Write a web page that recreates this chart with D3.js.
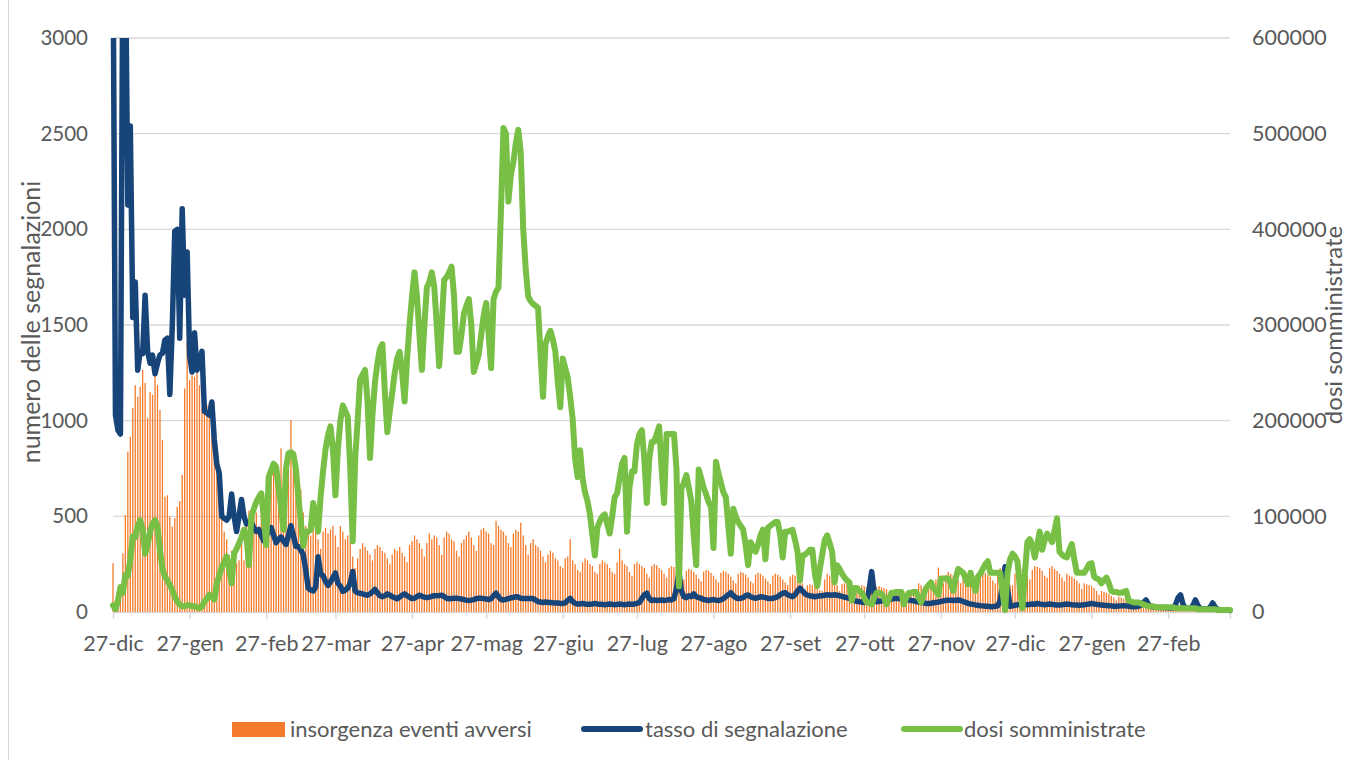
<!DOCTYPE html>
<html><head><meta charset="utf-8">
<script src="https://cdn.jsdelivr.net/npm/d3@7"></script>
<style>
body{margin:0;background:#fff;}
svg text{font-family:Lato,"Open Sans",sans-serif;fill:#595959;}
</style>
</head><body>
<svg id="chart" width="1349" height="760"></svg>
<script>
// ---------- data (daily, from 27-dic-2020) ----------
const startDay = [2020, 11, 27];
const tickLabels = ["27-dic","27-gen","27-feb","27-mar","27-apr","27-mag","27-giu","27-lug","27-ago","27-set","27-ott","27-nov","27-dic","27-gen","27-feb"];
const leftTicks = [0,500,1000,1500,2000,2500,3000];
const rightTicks = [0,100000,200000,300000,400000,500000,600000];
const seriesNames = ["insorgenza eventi avversi","tasso di segnalazione","dosi somministrate"];

// insorgenza eventi avversi (bars, left axis)
const eventi = [
255,60,70,134,307,507,838,
916,1066,1186,1125,1177,1265,1197,
1014,1151,1135,1249,1186,1056,899,
603,610,500,446,491,550,580,
716,1169,1412,1212,1237,1230,1256,
1186,1064,1134,1080,1091,1064,864,
733,620,550,420,380,298,320,
330,256,270,400,270,481,530,
470,550,520,450,540,550,550,
600,707,740,770,730,855,680,
700,780,1003,760,640,680,640,
520,450,430,400,440,420,380,
330,420,440,410,430,450,400,
340,450,420,380,400,370,290,
230,280,330,360,340,320,300,
270,330,350,340,320,310,280,
250,300,330,320,340,310,290,
260,350,370,400,380,360,330,
290,360,410,380,400,390,350,
300,390,420,410,380,370,320,
290,360,380,400,420,390,350,
320,400,430,440,420,410,360,
350,477,450,430,420,400,360,
340,410,430,420,467,400,350,
300,360,380,350,340,320,290,
260,300,320,310,280,270,240,
230,280,290,381,270,250,220,
210,260,280,270,250,240,210,
200,250,270,260,250,230,210,
200,260,330,270,250,240,210,
190,250,260,250,240,230,200,
180,240,250,245,230,220,200,
180,230,240,235,220,200,180,
170,215,225,220,210,195,175,
160,210,220,215,205,190,170,
155,205,215,210,200,185,165,
150,200,210,205,195,180,160,
150,195,205,200,190,175,160,
145,190,200,195,185,170,155,
140,185,195,190,180,165,150,
120,140,145,140,135,130,115,
110,170,200,190,180,165,140,
110,145,150,145,140,130,110,
100,135,140,135,130,125,105,
95,130,135,130,125,120,100,
90,115,120,118,115,110,95,
90,115,120,118,150,140,120,
110,150,160,155,170,232,180,
150,195,210,200,190,180,165,
150,190,210,200,195,185,160,
150,200,210,205,195,185,165,
150,210,230,220,200,170,140,
140,200,220,230,225,215,190,
170,220,240,235,230,215,190,
180,230,240,225,215,200,180,
160,200,190,185,175,165,150,
120,150,145,140,135,125,110,
90,110,105,100,95,85,75,
60,80,75,70,65,55,45,
35,40,38,35,30,28,25,
20,25,24,22,20,18,16,
14,18,17,16,15,14,12,
10,13,12,12,11,10,9,
8,10,10,9,9,8,7,
6,8,7,7,6
];

// tasso di segnalazione (line, left axis)
const tasso = [
3500,1030,950,930,3500,3500,2127,
2540,1539,1725,1264,1362,1350,1656,
1362,1300,1343,1245,1300,1343,1352,
1421,1431,1137,1500,1990,2000,1431,
2107,1656,1882,1343,1254,1460,1264,
1300,1362,1049,1040,1029,1098,900,
774,725,500,490,480,500,617,
500,421,500,588,500,460,465,
470,440,421,431,400,372,400,
421,441,400,363,380,392,370,
353,400,451,400,343,341,323,
300,219,125,115,110,130,289,
200,190,160,139,157,180,204,
150,135,108,115,125,150,212,
110,100,98,95,90,88,95,
105,118,100,85,80,85,95,
88,80,75,69,78,88,95,
85,78,70,72,80,88,82,
78,75,78,82,85,85,86,
88,80,72,69,70,72,72,
70,68,65,62,60,62,65,
70,72,72,70,68,65,70,
85,98,80,65,63,66,70,
74,76,80,78,72,70,70,
70,70,70,62,54,52,50,
52,50,50,48,47,47,45,
45,48,60,71,55,45,42,
42,45,42,40,40,42,45,
42,40,40,38,40,42,40,
38,40,42,40,38,40,42,
40,42,45,50,70,90,98,
70,60,63,60,62,63,60,
62,65,63,70,120,209,110,
80,75,85,80,95,80,75,
72,65,63,60,63,65,62,
60,63,70,80,90,101,85,
75,70,72,75,85,89,80,
75,72,75,80,78,75,72,
70,72,75,80,90,98,101,
90,85,80,90,110,125,110,
95,88,85,82,80,82,85,
85,88,90,89,88,90,88,
85,82,78,75,71,65,60,
56,54,52,50,55,120,211,
100,54,55,58,60,62,65,
68,70,71,70,68,66,64,
63,60,58,55,52,50,48,
45,45,46,48,50,52,55,
58,60,62,62,60,62,63,
60,55,50,45,42,40,37,
35,33,32,30,30,28,28,
30,32,60,150,237,120,30,
32,35,38,40,42,40,38,
40,42,40,45,42,40,38,
40,42,40,38,36,37,38,
40,42,40,38,37,36,35,
36,38,40,42,45,42,40,
38,36,35,34,33,32,30,
30,31,32,33,32,30,28,
27,28,30,35,50,63,40,
28,26,25,24,24,23,22,
22,21,22,40,75,89,40,
22,20,20,35,63,35,18,
17,16,15,25,47,25,14,
12,11,10,9,8
];

// dosi somministrate (line, right axis), in migliaia
const dosiMigliaia = [
7,3,12,26,20,39,38,
55,79,78,90,96,86,61,
70,84,92,96,89,65,45,
37,33,28,23,16,11,8,
6,6,7,7,6,6,5,
4,6,11,14,18,16,13,
30,38,47,52,58,45,30,
61,66,72,78,86,80,49,
100,108,115,120,124,100,70,
141,148,155,152,130,110,86,
150,166,167,165,150,120,95,
69,84,84,86,114,100,84,
120,147,170,185,194,170,122,
170,200,216,210,204,150,74,
160,200,243,248,253,220,161,
206,240,260,275,280,230,188,
210,229,250,265,272,250,220,
265,300,330,355,330,290,253,
300,339,345,355,340,300,257,
300,347,350,355,361,330,272,
272,290,312,320,327,300,251,
260,269,290,310,323,290,255,
327,335,339,420,506,500,429,
457,470,490,504,480,400,359,
330,325,322,320,318,270,225,
280,288,294,285,272,240,214,
265,255,245,225,202,160,141,
169,140,125,116,102,80,59,
88,95,100,102,92,82,100,
120,124,140,155,161,84,130,
147,147,175,186,190,160,114,
160,178,178,186,194,150,114,
186,186,186,186,150,27,129,
135,143,130,116,80,49,149,
140,130,123,115,110,67,157,
145,135,125,120,90,61,108,
100,94,90,86,70,49,73,
68,63,70,80,86,55,88,
90,92,94,94,80,57,84,
84,85,86,75,63,33,59,
60,62,65,65,40,27,45,
60,75,80,72,63,31,49,
45,40,36,33,31,12,25,
25,22,20,15,10,10,8,
15,20,20,19,15,8,14,
20,20,21,21,21,8,15,
20,20,21,21,15,10,18,
25,28,31,25,22,18,35,
35,35,35,30,22,35,45,
43,41,35,29,41,30,22,
37,40,45,50,53,41,41,
41,41,41,20,2,41,55,
61,58,53,25,4,40,73,
76,70,57,70,84,65,75,
82,78,73,85,98,63,60,
58,57,65,71,55,41,41,
41,41,45,50,51,37,35,
34,30,33,36,30,22,21,
21,20,20,21,22,12,11,
10,10,10,9,8,7,6,
6,6,5,5,5,5,5,
5,5,5,4,4,4,4,
4,4,4,4,4,3,3,
3,3,3,3,3,3,2,
2,2,2,2,2
];

// ---------- drawing ----------
const W = 1349, H = 760;
const plot = {left:113, right:1230, top:38, bottom:612};
const svg = d3.select("#chart");
const start = new Date(startDay[0], startDay[1], startDay[2]);
const n = eventi.length;
const dates = d3.range(n).map(i => d3.timeDay.offset(start, i));
const dosi = dosiMigliaia.map(v => v * 1000);

const x = d3.scaleTime().domain([dates[0], dates[n-1]]).range([plot.left, plot.right]);
const yL = d3.scaleLinear().domain([0, 3000]).range([plot.bottom, plot.top]);
const yR = d3.scaleLinear().domain([0, 600000]).range([plot.bottom, plot.top]);

const colOrange = "#F47B2B", colBlue = "#174479", colGreen = "#77BF45", colGrid = "#D9D9D9";

// chart border (left edge visible)
svg.append("line").attr("x1",8.5).attr("x2",8.5).attr("y1",0).attr("y2",H).attr("stroke",colGrid).attr("stroke-width",1);

// gridlines
svg.append("g").selectAll("line").data(leftTicks.slice(1)).join("line")
  .attr("x1", plot.left).attr("x2", plot.right)
  .attr("y1", d => yL(d)).attr("y2", d => yL(d))
  .attr("stroke", colGrid).attr("stroke-width", 1.4);

// x axis
const tickDates = tickLabels.map((t,i) => new Date(startDay[0], startDay[1] + i, startDay[2]));
const xAxis = svg.append("g").attr("transform", `translate(0,${plot.bottom})`)
  .call(d3.axisBottom(x).tickValues(tickDates.concat([dates[n-1]])).tickSize(7).tickSizeOuter(0).tickPadding(17)
    .tickFormat((d,i) => tickLabels[i] || ""));
xAxis.select(".domain").attr("stroke", colGrid).attr("stroke-width", 1.4);
xAxis.selectAll(".tick line").attr("stroke", colGrid).attr("stroke-width", 1.4);
xAxis.selectAll("text").attr("font-size", 21.5).style("fill", "#595959");

// left axis
const lAxis = svg.append("g").attr("transform", `translate(${plot.left},0)`)
  .call(d3.axisLeft(yL).tickValues(leftTicks).tickSize(0).tickPadding(25).tickFormat(d3.format("d")));
lAxis.select(".domain").remove();
lAxis.selectAll("text").attr("font-size", 20.5).style("fill", "#595959");

// right axis
const rAxis = svg.append("g").attr("transform", `translate(${plot.right},0)`)
  .call(d3.axisRight(yR).tickValues(rightTicks).tickSize(0).tickPadding(22).tickFormat(d3.format("d")));
rAxis.select(".domain").remove();
rAxis.selectAll("text").attr("font-size", 21.5).style("fill", "#595959");

// clip
svg.append("defs").append("clipPath").attr("id","plotclip").append("rect")
  .attr("x", plot.left - 10).attr("y", plot.top).attr("width", plot.right - plot.left + 20).attr("height", plot.bottom - plot.top + 10);

const g = svg.append("g").attr("clip-path","url(#plotclip)");

// bars
const barW = 1.3;
g.append("g").selectAll("rect").data(eventi).join("rect")
  .attr("x", (d,i) => x(dates[i]) - barW/2)
  .attr("width", barW)
  .attr("y", d => yL(d))
  .attr("height", d => yL(0) - yL(d))
  .attr("fill", colOrange);

// lines
const lineL = d3.line().x((d,i) => x(dates[i])).y(d => yL(d));
const lineR = d3.line().x((d,i) => x(dates[i])).y(d => yR(d));
g.append("path").datum(tasso).attr("d", lineL).attr("fill","none")
  .attr("stroke", colBlue).attr("stroke-width", 5.5).attr("stroke-linejoin","round").attr("stroke-linecap","round");
g.append("path").datum(dosi).attr("d", lineR).attr("fill","none")
  .attr("stroke", colGreen).attr("stroke-width", 6).attr("stroke-linejoin","round").attr("stroke-linecap","round");

// axis titles
svg.append("text").attr("transform", "translate(40,322) rotate(-90)")
  .attr("text-anchor","middle").attr("font-size", 25).text("numero delle segnalazioni");
svg.append("text").attr("transform", "translate(1342,325) rotate(-90)")
  .attr("text-anchor","middle").attr("font-size", 24).text("dosi somministrate");

// legend
const lg = svg.append("g");
lg.append("rect").attr("x",232).attr("y",722).attr("width",53).attr("height",15).attr("fill",colOrange);
lg.append("text").attr("x",290).attr("y",729).attr("dy","0.35em").attr("font-size",22).text(seriesNames[0]);
lg.append("line").attr("x1",584).attr("x2",640).attr("y1",729).attr("y2",729)
  .attr("stroke",colBlue).attr("stroke-width",6).attr("stroke-linecap","round");
lg.append("text").attr("x",645).attr("y",729).attr("dy","0.35em").attr("font-size",22).text(seriesNames[1]);
lg.append("line").attr("x1",904).attr("x2",960).attr("y1",729).attr("y2",729)
  .attr("stroke",colGreen).attr("stroke-width",6).attr("stroke-linecap","round");
lg.append("text").attr("x",964).attr("y",729).attr("dy","0.35em").attr("font-size",22).text(seriesNames[2]);
</script>
</body></html>
